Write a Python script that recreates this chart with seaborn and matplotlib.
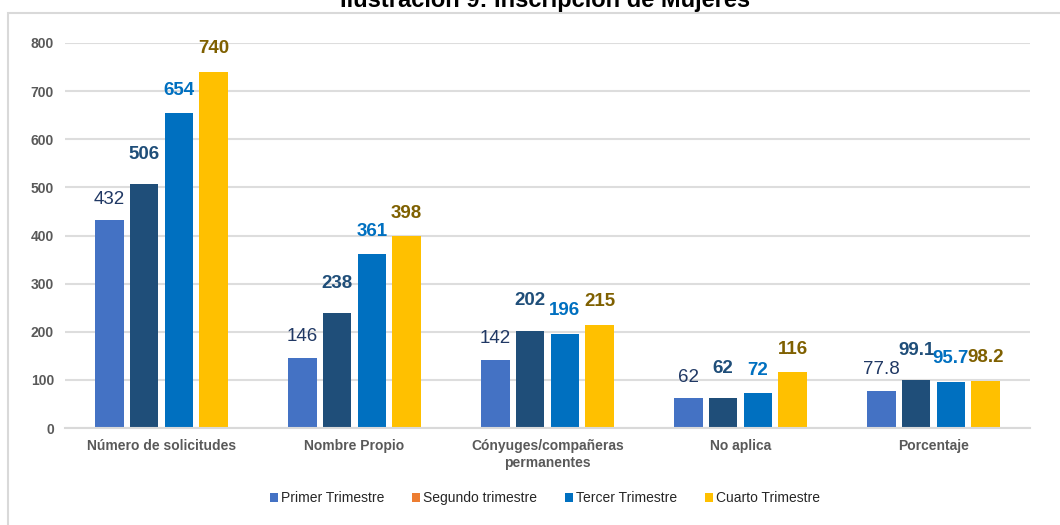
import seaborn as sns
import matplotlib.pyplot as plt
import pandas as pd
from matplotlib.patches import Patch, Rectangle

# data
categories = ['Número de solicitudes', 'Nombre Propio',
              'Cónyuges/compañeras\npermanentes', 'No aplica', 'Porcentaje']
series_names = ['Primer Trimestre', 'Segundo trimestre', 'Tercer Trimestre', 'Cuarto Trimestre']
primer = [432, 146, 142, 62, 77.8]
segundo = [506, 238, 202, 62, 99.1]
tercer = [654, 361, 196, 72, 95.7]
cuarto = [740, 398, 215, 116, 98.2]
y_ticks = [0, 100, 200, 300, 400, 500, 600, 700, 800]

bar_colors = ['#4472C4', '#1F4E79', '#0070C0', '#FFC000']
legend_colors = ['#4472C4', '#ED7D31', '#0070C0', '#FFC000']
label_colors = ['#203864', '#1F4E79', '#0070C0', '#7F6000']
label_weights = ['normal', 'bold', 'bold', 'bold']
label_offsets = [21, 30, 23, 23]  # pixels above the bar top

rows = []
for name, vals in zip(series_names, [primer, segundo, tercer, cuarto]):
    for cat, v in zip(categories, vals):
        rows.append({'categoria': cat, 'serie': name, 'valor': v})
df = pd.DataFrame(rows)

sns.set_style('white')
plt.rcParams['font.family'] = ['Liberation Sans', 'DejaVu Sans']

fig = plt.figure(figsize=(10.6, 5.25), dpi=100)
ax = fig.add_axes([65 / 1060, 97 / 525, 965 / 1060, 385 / 525])

sns.barplot(data=df, x='categoria', y='valor', hue='serie', order=categories,
            hue_order=series_names, palette=bar_colors, saturation=1, width=0.72,
            gap=0.18, linewidth=0, legend=False, ax=ax)

# value labels over each bar
for i, cont in enumerate(ax.containers):
    vals = [primer, segundo, tercer, cuarto][i]
    for bar, v in zip(cont, vals):
        txt = f'{v:g}'
        ax.annotate(txt, (bar.get_x() + bar.get_width() / 2, bar.get_height()),
                    xytext=(0, label_offsets[i] * 0.72), textcoords='offset points',
                    ha='center', va='center', fontsize=13.5,
                    color=label_colors[i], fontweight=label_weights[i])

ax.set_xlim(-0.5, 4.5)
ax.set_ylim(0, 800)
ax.set_yticks(y_ticks)
ax.set_yticklabels([str(t) for t in y_ticks], fontsize=10, fontweight='bold', color='#595959')
ax.set_xticks(range(len(categories)))
ax.set_xticklabels(categories, fontsize=10, fontweight='bold', color='#595959', linespacing=1.3)
ax.tick_params(axis='both', length=0, pad=8)
ax.set_xlabel('')
ax.set_ylabel('')
ax.grid(axis='y', color='#DDDDDD', linewidth=1.5)
ax.set_axisbelow(True)
for s in ['top', 'right', 'left']:
    ax.spines[s].set_visible(False)
ax.spines['bottom'].set_color('#D9D9D9')
ax.spines['bottom'].set_linewidth(1.5)

# legend (second entry is orange in the original)
handles = [Patch(facecolor=c, edgecolor='none') for c in legend_colors]
fig.legend(handles, series_names, loc='center', bbox_to_anchor=(545 / 1060, 1 - 498 / 525),
           ncol=4, frameon=False, fontsize=10, handlelength=0.6, handleheight=0.6,
           handletextpad=0.2, columnspacing=2.0)

# outer chart border
fig.patches.append(Rectangle((8 / 1060, -0.1), 1.2, 1.1 - 13 / 525,
                             transform=fig.transFigure, fill=False,
                             edgecolor='#D9D9D9', linewidth=1.5))

fig.text(545 / 1060, 1 - 7 / 525, 'Ilustración 9: Inscripción de Mujeres',
         ha='center', va='baseline', fontsize=17, fontweight='bold', color='black')

fig.savefig('out.png', dpi=100)
